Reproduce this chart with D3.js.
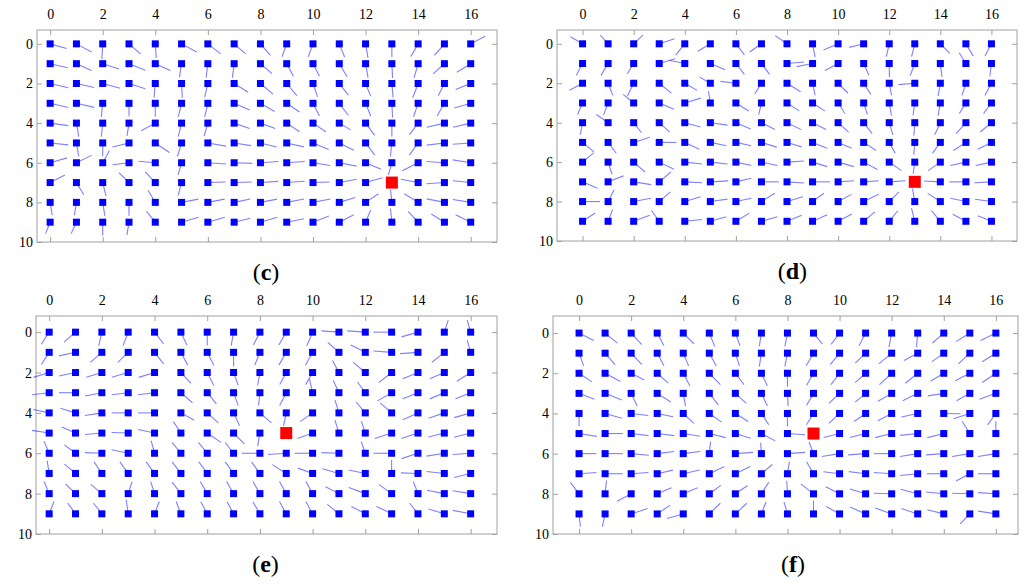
<!DOCTYPE html>
<html>
<head>
	<meta charset="utf-8">
	<title>Direction fields on a 17 x 10 grid</title>
	<script src="https://d3js.org/d3.v7.min.js"></script>
	<style>
		body { margin: 0; background: #fff; }
		text { font-family: "Liberation Serif", "Times New Roman", serif; }
	</style>
</head>
<body>
<div id="viz"></div>
<script>

// tick labels
var xTicks = [0, 2, 4, 6, 8, 10, 12, 14, 16];
var yTicks = [0, 2, 4, 6, 8, 10];
var panelNames = ["c", "d", "e", "f"];
// red target node (column, row) for each panel
var targets = [[13, 7], [13, 7], [9, 5], [9, 5]];

// each node: "angle:magnitude" (angle in degrees, y pointing down; magnitude in hundredths of a grid step), X = target
var fieldC = [
	"16:65 28:65 93:58 41:58 86:54 28:65 38:62 41:58 49:58 110:52 110:52 68:54 80:54 90:50 120:56 131:58 -28:62",
	"13:69 24:63 18:65 22:67 24:63 99:52 97:54 97:54 41:58 62:54 63:54 59:58 80:54 87:54 106:56 138:58 148:62",
	"13:71 13:69 15:69 18:65 95:54 87:54 103:53 32:63 40:63 50:60 71:54 52:56 68:52 85:54 111:58 117:52 158:62",
	"13:71 13:69 96:52 90:49 90:51 104:53 103:53 23:64 30:62 34:59 63:54 53:58 68:52 87:54 109:54 120:56 164:65",
	"8:69 80:52 96:52 99:49 152:61 104:53 106:51 19:62 20:60 34:59 34:59 31:50 53:58 90:51 127:55 167:69 167:69",
	"6:69 80:52 90:51 166:65 34:65 107:54 10:70 9:65 14:63 13:67 23:65 27:62 53:58 96:52 126:57 173:68 176:68",
	"-16:67 -26:64 -61:53 173:63 185:64 106:48 4:69 2:69 -4:69 -4:68 9:66 11:67 23:64 106:48 153:68 184:68 189:69",
	"-27:63 59:54 76:53 225:54 227:56 105:50 -2:67 -2:67 -4:67 -4:68 -2:63 -11:67 -16:67 X 191:67 176:68 186:68",
	"81:49 99:49 81:52 90:51 239:54 -11:65 -11:65 -12:63 -11:65 -11:67 -11:67 -17:63 -34:59 264:49 212:62 191:69 189:69",
	"112:47 115:48 90:51 99:49 231:53 -16:67 -16:67 -14:63 -16:67 -11:67 -21:65 -27:62 -67:50 264:52 227:56 212:59 206:64"
];
var fieldD = [
	"210:55 228:46 -43:51 -18:63 129:57 149:57 52:54 145:56 215:56 79:53 157:62 166:58 103:51 104:52 45:53 59:55 118:54",
	"118:52 121:54 122:48 -17:65 192:62 23:63 52:54 53:53 -5:67 169:63 152:58 66:50 89:53 111:50 83:53 238:50 97:50",
	"152:58 69:51 116:56 39:61 30:56 210:50 187:61 122:50 32:63 78:48 45:54 57:52 79:48 175:64 100:51 108:50 118:54",
	"113:50 111:50 219:53 23:63 -17:65 261:47 32:59 103:47 33:57 33:57 57:49 72:48 80:50 98:49 100:50 122:48 127:51",
	"101:48 215:56 52:50 42:55 15:64 8:68 23:63 27:59 26:62 27:59 42:55 52:54 73:50 94:50 115:52 132:57 140:57",
	"40:58 53:53 -18:66 0:67 25:63 12:64 12:62 17:63 17:60 22:62 23:58 33:58 61:48 95:48 126:52 147:58 153:60",
	"-40:58 72:50 41:59 26:64 6:68 6:68 12:62 12:64 -4:67 17:60 16:64 28:61 35:58 98:46 145:58 168:62 168:63",
	"23:63 -21:65 9:69 -40:60 3:68 -3:70 -13:62 0:68 4:67 0:68 -4:62 -4:59 -4:63 X 183:64 180:65 177:67",
	"0:68 -63:52 -11:69 -41:58 -17:65 -8:68 -12:62 -32:62 -17:65 -36:55 -28:60 -26:65 -45:54 260:52 213:59 192:62 188:65",
	"-33:59 -69:50 -21:67 234:52 -6:68 -16:65 -31:62 -16:65 -22:62 -24:63 -28:61 -40:57 -51:53 256:53 230:54 208:58 202:58"
];
var fieldE = [
	"123:55 139:58 103:53 111:55 52:56 65:54 90:51 100:52 117:55 120:56 113:56 184:67 184:69 180:69 164:65 -72:48 -106:48",
	"123:55 168:64 139:58 136:55 52:56 62:55 63:55 90:54 112:52 120:56 119:56 222:57 207:62 184:69 176:68 141:61 254:48",
	"163:63 168:64 163:62 164:65 163:63 47:56 63:55 70:52 100:50 118:52 120:53 242:52 220:60 142:62 158:62 157:60 148:62",
	"173:66 180:63 169:65 173:63 173:63 41:58 51:55 70:52 96:49 117:55 257:53 245:52 234:50 150:62 158:62 157:60 158:62",
	"192:62 197:60 171:65 180:63 180:63 29:58 42:57 65:54 41:58 102:50 145:58 253:51 230:54 221:58 156:63 161:63 164:65",
	"189:66 204:57 175:64 182:63 192:64 237:52 34:63 45:58 100:50 X 160:61 253:51 252:48 162:67 162:66 166:62 166:65",
	"247:50 217:53 182:64 192:64 255:50 231:53 231:53 232:52 180:69 176:69 180:68 182:67 251:47 180:69 162:66 171:69 176:68",
	"261:49 220:55 236:53 234:54 234:54 233:55 234:54 234:54 234:54 212:63 200:59 196:65 192:64 270:51 182:65 186:68 166:65",
	"247:50 224:52 220:55 288:48 252:48 233:55 240:53 240:53 240:53 241:53 241:53 207:57 200:67 216:60 249:50 191:67 189:69",
	"291:50 234:50 232:52 262:54 291:50 249:50 242:52 242:52 240:53 241:53 241:53 219:57 208:60 206:64 232:52 197:63 191:69"
];
var fieldF = [
	"27:63 39:61 47:60 62:55 45:58 68:55 70:52 99:52 101:52 51:53 127:55 117:55 101:55 95:54 139:58 148:62 154:65",
	"70:52 49:58 47:60 62:55 67:53 61:56 72:51 99:52 101:52 120:56 129:57 136:55 140:64 152:60 144:57 137:60 148:62",
	"34:59 28:67 27:57 42:57 62:55 46:61 53:55 65:54 90:51 120:53 127:55 138:54 137:64 141:61 149:60 153:63 146:63",
	"21:63 22:69 65:54 32:62 80:50 52:56 42:57 65:54 87:49 120:53 137:56 140:52 150:61 154:64 171:62 151:58 160:67",
	"90:49 16:67 7:66 12:62 43:56 35:58 32:58 57:52 90:49 122:51 137:56 145:54 152:60 168:64 1:64 162:66 126:54",
	"9:69 0:68 7:67 7:66 9:66 14:65 17:62 28:60 4:68 X 166:63 166:63 166:65 174:68 166:65 238:56 270:47",
	"0:67 0:68 5:68 -7:66 -7:66 276:47 -4:68 266:42 -4:68 249:48 171:69 176:67 180:68 171:69 176:68 171:69 171:69",
	"-4:67 0:68 -4:67 -13:62 -13:65 -26:64 -26:64 -40:55 279:47 240:53 187:62 187:65 184:68 174:68 180:65 152:60 180:68",
	"233:55 276:52 152:61 -23:60 -23:60 -36:55 -34:57 -58:53 267:50 218:62 207:60 197:63 182:68 195:68 186:68 182:68 184:68",
	"84:49 102:50 -18:66 -34:60 164:65 -44:59 -43:60 -69:50 254:48 270:51 209:58 204:65 200:67 198:66 194:65 134:53 189:69"
];
var fields = [fieldC, fieldD, fieldE, fieldF];

// layout of the four frames
var frames = [
	{left: 37,  right: 497,  top: 30,  bottom: 242, xd: [-0.5, 17],   yd: [-0.7, 10]},
	{left: 557, right: 1017, top: 30,  bottom: 241, xd: [-1, 17],     yd: [-0.7, 10]},
	{left: 36,  right: 497,  top: 316, bottom: 534, xd: [-0.5, 17],   yd: [-0.8, 10]},
	{left: 553, right: 1018, top: 316, bottom: 534, xd: [-1, 16.85],  yd: [-0.85, 10]}
];

var serif = "'Liberation Serif', 'Times New Roman', serif";

var svg = d3.select("#viz")
	.append("svg")
		.attr("width", 1024)
		.attr("height", 585)
		.style("display", "block");

frames.forEach(function(f, i) {
	var x = d3.scaleLinear().domain(f.xd).range([f.left, f.right]);
	var y = d3.scaleLinear().domain(f.yd).range([f.top, f.bottom]);
	var unit = x(1) - x(0);

	// parse the field rows into nodes
	var nodes = [];
	fields[i].forEach(function(row, r) {
		row.split(" ").forEach(function(cell, c) {
			if (cell === "X") return;
			var p = cell.split(":");
			nodes.push({col: c, row: r, ang: +p[0], mag: +p[1] / 100});
		});
	});

	var g = svg.append("g");

	// frame
	g.append("rect")
		.attr("x", f.left).attr("y", f.top)
		.attr("width", f.right - f.left).attr("height", f.bottom - f.top)
		.attr("fill", "none").attr("stroke", "#a0a0a0").attr("stroke-width", 1);

	// axes, ticks pointing in
	function styleAxis(sel) {
		sel.attr("font-family", serif).attr("font-size", 14);
		sel.select(".domain").remove();
		sel.selectAll(".tick line").attr("stroke", "#a0a0a0");
		sel.selectAll("text")
			.style("font-family", serif)
			.style("font-size", "14px")
			.attr("fill", "#000");
	}
	g.append("g").attr("transform", "translate(0," + f.top + ")")
		.call(d3.axisTop(x).tickValues(xTicks).tickSize(-5).tickPadding(11))
		.call(styleAxis);
	g.append("g").attr("transform", "translate(0," + f.bottom + ")")
		.call(d3.axisBottom(x).tickValues(xTicks).tickSize(-5).tickFormat(""))
		.call(styleAxis);
	g.append("g").attr("transform", "translate(" + f.left + ",0)")
		.call(d3.axisLeft(y).tickValues(yTicks).tickSize(-5).tickPadding(4))
		.call(styleAxis);
	g.append("g").attr("transform", "translate(" + f.right + ",0)")
		.call(d3.axisRight(y).tickValues(yTicks).tickSize(-5).tickFormat(""))
		.call(styleAxis);

	// direction segments
	g.selectAll("line.seg")
		.data(nodes)
		.enter().append("line")
			.attr("class", "seg")
			.attr("x1", function(d) { return x(d.col); })
			.attr("y1", function(d) { return y(d.row); })
			.attr("x2", function(d) { return x(d.col) + unit * d.mag * Math.cos(d.ang * Math.PI / 180); })
			.attr("y2", function(d) { return y(d.row) + unit * d.mag * Math.sin(d.ang * Math.PI / 180); })
			.attr("stroke", "#0000ff")
			.attr("stroke-opacity", 0.5)
			.attr("stroke-width", 1.1);

	// nodes
	g.selectAll("rect.node")
		.data(nodes)
		.enter().append("rect")
			.attr("class", "node")
			.attr("x", function(d) { return x(d.col) - 3.5; })
			.attr("y", function(d) { return y(d.row) - 3.5; })
			.attr("width", 7).attr("height", 7)
			.attr("fill", "#0000ff");

	// target
	g.append("rect")
		.attr("x", x(targets[i][0]) - 6)
		.attr("y", y(targets[i][1]) - 6)
		.attr("width", 12).attr("height", 12)
		.attr("fill", "#ff0000");

	// panel label
	var lab = g.append("text")
		.attr("x", (x(-0.5) + x(17)) / 2 - 1)
		.attr("y", f.bottom + 38)
		.attr("text-anchor", "middle")
		.style("font-family", serif)
		.style("font-size", "24px");
	lab.append("tspan").text("(");
	lab.append("tspan").attr("font-weight", "bold").text(panelNames[i]);
	lab.append("tspan").text(")");
});

</script>
</body>
</html>
